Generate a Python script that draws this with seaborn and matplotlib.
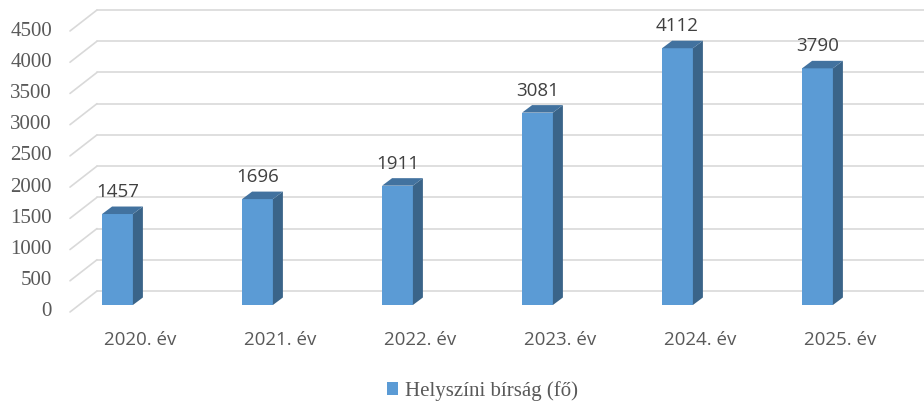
"""Helyszíni bírság (fő) – 3D-style column chart recreated with seaborn."""

import matplotlib

matplotlib.use("Agg")
import matplotlib.pyplot as plt
import matplotlib.transforms as mtransforms
import seaborn as sns
from matplotlib.patches import Polygon

years = ["2020. év", "2021. év", "2022. év", "2023. év", "2024. év", "2025. év"]
fines = [1457, 1696, 1911, 3081, 4112, 3790]
y_ticks = [0, 500, 1000, 1500, 2000, 2500, 3000, 3500, 4000, 4500]
series_name = "Helyszíni bírság (fő)"

FRONT = "#5B9BD5"
SIDE = "#3A6489"
TOP = "#42729F"
GRID = "#D9D9D9"
GRAY = "#595959"

sns.set_theme(style="white")
plt.rcParams["font.family"] = ["Open Sans", "DejaVu Sans"]

DPI = 100
fig = plt.figure(figsize=(9.24, 4.03), dpi=DPI)
# axes = plane of the bars' front faces (pixel layout)
ax = fig.add_axes([47.5 / 924, 98 / 403, 840 / 924, 281 / 403])
ax.set_facecolor("none")

sns.barplot(x=years, y=fines, color=FRONT, saturation=1, width=0.22,
            linewidth=0, ax=ax, zorder=3)
ax.set_xlim(-0.5, len(years) - 0.5)
ax.set_ylim(0, 4500)
ax.set_axis_off()


def shift(dx_px, dy_px):
    return mtransforms.ScaledTranslation(dx_px / DPI, dy_px / DPI, fig.dpi_scale_trans)


# back wall grid (x in inches, y in data units) and diagonal floor/side lines
blend = mtransforms.blended_transform_factory(fig.dpi_scale_trans, ax.transData)
for v in y_ticks:
    ax.plot([97 / DPI, 924 / DPI], [v, v], color=GRID, lw=1.2,
            transform=blend + shift(0, 14), clip_on=False, zorder=1)
    x0, y0 = blend.transform((70 / DPI, v))
    x1, y1 = blend.transform((97 / DPI, v))
    fig.add_artist(plt.Line2D([x0, x1], [y0 - 7, y1 + 14], color=GRID, lw=1.2,
                              transform=None, zorder=1))

# 3D side and top faces of each column
depth_x, depth_y = 10, 7.5
for bar in ax.patches:
    (x0, y0), (x1, y1) = bar.get_window_extent().get_points()
    side = Polygon([(x1, y0), (x1 + depth_x, y0 + depth_y),
                    (x1 + depth_x, y1 + depth_y), (x1, y1)],
                   closed=True, facecolor=SIDE, edgecolor="none", transform=None, zorder=4)
    top = Polygon([(x0, y1), (x0 + depth_x, y1 + depth_y),
                   (x1 + depth_x, y1 + depth_y), (x1, y1)],
                  closed=True, facecolor=TOP, edgecolor="none", transform=None, zorder=4)
    fig.add_artist(side)
    fig.add_artist(top)

# value labels
for i, v in enumerate(fines):
    ax.text(i, v, str(v), ha="center", va="center", fontsize=13.5, color="#404040",
            transform=ax.transData + shift(0, 22), zorder=5)

# category labels on the front plane
for i, name in enumerate(years):
    ax.text(i, 0, name, ha="center", va="center", fontsize=13.5, color=GRAY,
            transform=ax.transData + shift(22.5, -35))

# value axis labels on the front plane
ytrans = ax.get_yaxis_transform()
for v in y_ticks:
    ax.text(0, v, str(v), ha="right", va="center", fontsize=15, color=GRAY,
            family="Liberation Serif", transform=ytrans + shift(4.5, -7))

fig.legend([ax.patches[0]], [series_name], loc="center", bbox_to_anchor=(0.522, 0.03),
           frameon=False, handlelength=0.55, handleheight=0.55, handletextpad=0.3,
           prop={"family": "Liberation Serif", "size": 15}, labelcolor=GRAY)

fig.savefig("out.png", dpi=DPI)
plt.close(fig)
